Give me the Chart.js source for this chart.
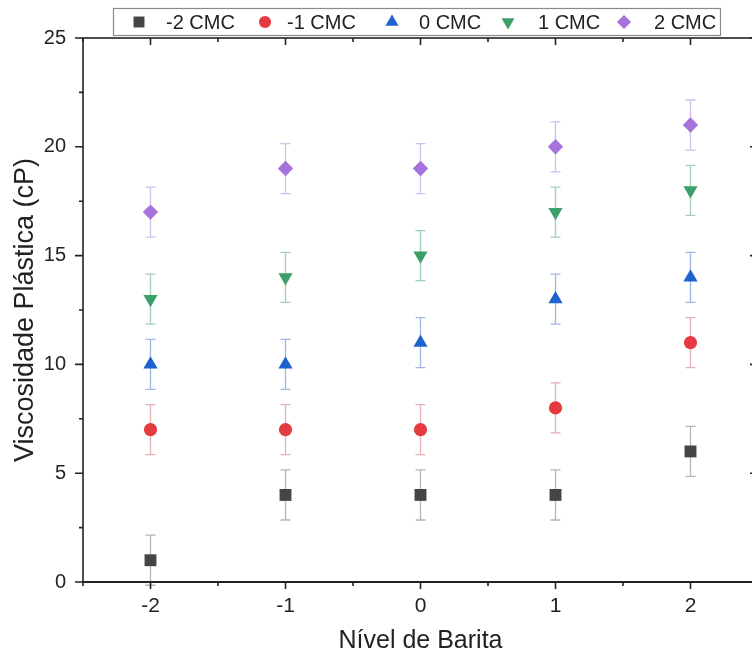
<!DOCTYPE html>
<html>
<head>
<meta charset="utf-8">
<script src="https://cdn.jsdelivr.net/npm/chart.js@4/dist/chart.umd.min.js"></script>
<style>
  html, body { margin: 0; padding: 0; background: #fff; overflow: hidden; }
  #wrap { width: 770px; height: 659px; }
</style>
</head>
<body>
<div id="wrap"><canvas id="chart" width="770" height="659"></canvas></div>
<script>
// barite levels (x) and plastic viscosity for each CMC level
const baritaLevels = [-2, -1, 0, 1, 2];
const cmcM2 = [1, 4, 4, 4, 6];
const cmcM1 = [7, 7, 7, 8, 11];
const cmc0 = [10, 10, 11, 13, 14];
const cmcP1 = [13, 14, 15, 17, 18];
const cmcP2 = [17, 19, 19, 20, 21];
const errSize = [1.15, 1.15, 1.15, 1.15, 1.15];
const seriesNames = ["-2 CMC", "-1 CMC", "0 CMC", "1 CMC", "2 CMC"];

const FONT = "'Liberation Sans', Arial, sans-serif";

function pts(values) {
  return baritaLevels.map((x, i) => ({ x: x, y: values[i], err: errSize[i] }));
}

function makeSet(label, values, color, errColor, style, radius, rotation) {
  return {
    label: label,
    data: pts(values),
    backgroundColor: color,
    borderColor: color,
    borderWidth: 0,
    pointStyle: style,
    pointRadius: radius,
    pointRotation: rotation || 0,
    errColor: errColor
  };
}

const datasets = [
  makeSet(seriesNames[0], cmcM2, "#454545", "rgba(120,120,120,0.55)", "rect", 8.4),
  makeSet(seriesNames[1], cmcM1, "#e53a3f", "rgba(205,100,105,0.5)", "circle", 6.6),
  makeSet(seriesNames[2], cmc0, "#1e62cf", "rgba(70,110,205,0.5)", "triangle", 8.2),
  makeSet(seriesNames[3], cmcP1, "#3c9f6a", "rgba(70,160,110,0.5)", "triangle", 8.2, 180),
  makeSet(seriesNames[4], cmcP2, "#a673dc", "rgba(165,125,215,0.5)", "rectRot", 7.7)
];

// error bars drawn through the scales
const errorBars = {
  id: "errorBars",
  beforeDatasetsDraw(chart) {
    const ctx = chart.ctx;
    const xs = chart.scales.x, ys = chart.scales.y;
    chart.data.datasets.forEach(ds => {
      ctx.save();
      ctx.strokeStyle = ds.errColor;
      ctx.lineWidth = 1.3;
      ds.data.forEach(p => {
        const x = xs.getPixelForValue(p.x);
        const y1 = ys.getPixelForValue(p.y + p.err);
        const y2 = ys.getPixelForValue(p.y - p.err);
        ctx.beginPath();
        ctx.moveTo(x, y1); ctx.lineTo(x, y2);
        ctx.moveTo(x - 5, y1); ctx.lineTo(x + 5, y1);
        ctx.moveTo(x - 5, y2); ctx.lineTo(x + 5, y2);
        ctx.stroke();
      });
      ctx.restore();
    });
  }
};

// frame with major/minor ticks like Origin
const frameTicks = {
  id: "frameTicks",
  afterDraw(chart) {
    const ctx = chart.ctx;
    const a = chart.chartArea;
    const xs = chart.scales.x, ys = chart.scales.y;
    ctx.save();
    ctx.strokeStyle = "#222";
    ctx.lineWidth = 1.6;
    ctx.strokeRect(a.left, a.top, a.right - a.left, a.bottom - a.top);
    ctx.lineWidth = 2;
    ctx.beginPath();
    ctx.moveTo(a.left, a.bottom); ctx.lineTo(a.right, a.bottom);
    ctx.stroke();
    ctx.lineWidth = 1.6;
    ctx.beginPath();
    for (let v = -2.5; v <= 2.5; v += 0.5) {
      const x = xs.getPixelForValue(v);
      const len = Number.isInteger(v) ? 7 : 4;
      ctx.moveTo(x, a.bottom); ctx.lineTo(x, a.bottom + len);
      ctx.moveTo(x, a.top); ctx.lineTo(x, a.top + len);
    }
    for (let v = 0; v <= 25; v += 2.5) {
      const y = ys.getPixelForValue(v);
      const len = v % 5 === 0 ? 8 : 4;
      ctx.moveTo(a.left, y); ctx.lineTo(a.left - len, y);
      ctx.moveTo(a.right, y); ctx.lineTo(a.right - len, y);
    }
    ctx.stroke();
    ctx.restore();
  }
};

// boxed legend on top of the frame
const boxLegend = {
  id: "boxLegend",
  afterDraw(chart) {
    const ctx = chart.ctx;
    const left = 113, top = 8, right = 720, bottom = 35;
    ctx.save();
    ctx.fillStyle = "#fff";
    ctx.fillRect(left, top, right - left, bottom - top);
    ctx.strokeStyle = "#8a8a8a";
    ctx.lineWidth = 1.2;
    ctx.strokeRect(left + 0.5, top + 0.5, right - left, bottom - top);
    const symX = [139, 265, 392, 508, 624];
    const textX = [166, 287, 419, 538, 654];
    const midY = 22;
    ctx.font = "20px " + FONT;
    ctx.textBaseline = "middle";
    ctx.textAlign = "left";
    chart.data.datasets.forEach((ds, i) => {
      ctx.fillStyle = ds.backgroundColor;
      ctx.strokeStyle = ds.backgroundColor;
      Chart.helpers.drawPoint(ctx, {
        pointStyle: ds.pointStyle,
        radius: ds.pointRadius * 0.92,
        rotation: ds.pointRotation,
        borderWidth: 0
      }, symX[i], midY);
      ctx.fillStyle = "#222";
      ctx.fillText(ds.label, textX[i], midY + 1);
    });
    ctx.restore();
  }
};

new Chart(document.getElementById("chart"), {
  type: "scatter",
  data: { datasets: datasets },
  plugins: [errorBars, frameTicks, boxLegend],
  options: {
    responsive: false,
    animation: false,
    layout: { padding: { top: 38, right: 12, left: 0, bottom: 0 } },
    plugins: { legend: { display: false }, tooltip: { enabled: false } },
    scales: {
      x: {
        type: "linear",
        min: -2.5, max: 2.5,
        afterBuildTicks(scale) { scale.ticks = baritaLevels.map(v => ({ value: v })); },
        afterFit(scale) { scale.height = 77; },
        grid: { display: false, drawTicks: true, tickLength: 7 },
        border: { display: false },
        ticks: { color: "#222", font: { family: FONT, size: 21 }, padding: 5 },
        title: {
          display: true, text: "Nível de Barita", color: "#222",
          font: { family: FONT, size: 25 }, padding: { top: 0, bottom: 3 }
        }
      },
      y: {
        min: 0, max: 25,
        ticks: { stepSize: 5, color: "#222", font: { family: FONT, size: 20 }, padding: 9 },
        afterFit(scale) { scale.width = 83; },
        grid: { display: false, drawTicks: true, tickLength: 8 },
        border: { display: false },
        title: {
          display: true, text: "Viscosidade Plástica (cP)", color: "#222",
          font: { family: FONT, size: 27 }, padding: { top: 9, bottom: 0 }
        }
      }
    }
  }
});
</script>
</body>
</html>
